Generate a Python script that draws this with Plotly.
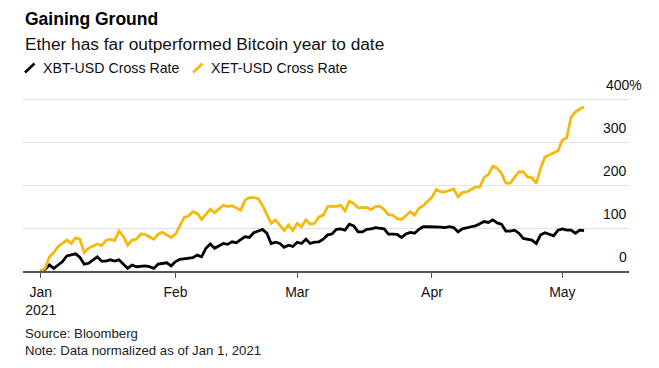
import datetime as dt
import plotly.graph_objects as go

# ---- data (days since Jan 1, 2021 -> normalized % change) ----
xbt_days = [0, 1, 2, 3, 4, 5, 6, 8, 9, 10, 11, 13, 14, 15, 16, 17, 18, 20, 21, 22, 24, 25, 26, 27, 29, 30,
            31, 32, 35, 36, 37, 38, 39, 40, 42, 43, 44, 45, 47, 48, 49, 50, 51, 52, 53, 54, 55, 56, 57, 58,
            59, 60, 61, 62, 63, 64, 65, 66, 67, 68, 69, 70, 71, 72, 73, 74, 75, 76, 77, 79, 80, 81, 82, 83,
            84, 85, 86, 87, 88, 89, 90, 92, 93, 94, 95, 96, 97, 98, 99, 100, 102, 103, 104, 105, 106, 107,
            108, 109, 110, 111, 112, 113, 114, 115, 116, 117, 118, 119, 120, 121, 122, 123, 124, 125]
xbt_vals = [0, 4, 14, 6, 14, 22, 35, 40, 32, 16, 18, 33, 23, 23, 26, 23, 26, 6, 14, 10, 12, 10, 6, 16, 19, 12,
            22, 27, 31, 37, 33, 53, 63, 53, 64, 62, 68, 66, 80, 78, 89, 93, 97, 88, 64, 67, 64, 55, 60, 57,
            67, 64, 74, 64, 67, 68, 74, 84, 86, 97, 98, 95, 109, 105, 91, 91, 97, 98, 101, 98, 86, 86, 85, 78,
            86, 90, 88, 97, 103, 103, 103, 102, 101, 103, 101, 91, 98, 101, 103, 105, 115, 113, 119, 112, 109, 93,
            93, 95, 88, 76, 74, 72, 64, 84, 89, 86, 82, 95, 98, 95, 95, 88, 95, 94]

xet_days = [0, 1, 2, 3, 4, 6, 7, 8, 9, 10, 11, 13, 14, 15, 16, 17, 18, 19, 20, 21, 22, 23, 24, 26, 27, 28,
            30, 31, 33, 34, 35, 36, 37, 39, 40, 42, 43, 44, 46, 47, 48, 49, 50, 51, 53, 54, 56, 57, 58, 59,
            60, 61, 62, 63, 64, 65, 66, 67, 68, 69, 70, 71, 72, 73, 75, 76, 77, 78, 79, 80, 81, 82, 83, 84,
            85, 86, 87, 88, 89, 90, 91, 92, 93, 95, 96, 97, 98, 100, 101, 102, 103, 104, 105, 106, 107, 108,
            109, 110, 111, 112, 113, 114, 115, 116, 117, 118, 119, 120, 121, 122, 123, 124, 125]
xet_vals = [0, 6, 33, 43, 57, 72, 64, 77, 74, 43, 53, 63, 59, 71, 74, 71, 93, 81, 60, 72, 74, 86, 85, 74, 86, 90,
            78, 86, 125, 128, 138, 134, 120, 144, 136, 153, 150, 152, 142, 165, 171, 171, 169, 153, 111, 119, 94, 107, 94, 111,
            103, 119, 109, 111, 126, 130, 150, 151, 150, 153, 140, 163, 157, 147, 148, 143, 150, 151, 143, 131, 130, 122, 120, 128,
            138, 130, 146, 152, 162, 172, 190, 184, 184, 191, 173, 183, 184, 195, 195, 218, 225, 244, 239, 227, 205, 204,
            218, 231, 231, 219, 217, 204, 239, 266, 270, 276, 280, 305, 310, 358, 370, 377, 382]

series_names = ["XBT-USD Cross Rate", "XET-USD Cross Rate"]
y_tick_vals = [0, 100, 200, 300, 400]
y_tick_text = ["0", "100", "200", "300", "400%"]
x_tick_vals = ["2021-01-01", "2021-02-01", "2021-03-01", "2021-04-01", "2021-05-01"]
x_tick_text = ["Jan<br>2021", "Feb", "Mar", "Apr", "May"]

start = dt.date(2021, 1, 1)
xbt_dates = [start + dt.timedelta(days=d) for d in xbt_days]
xet_dates = [start + dt.timedelta(days=d) for d in xet_days]

BLACK = "#000000"
YELLOW = "#F5B80C"
FONT = "Liberation Sans, Arial, sans-serif"

W, H = 659, 368
L, R, T, B = 23, 30, 97, 97
PW, PH = W - L - R, H - T - B


def px(x):
    return (x - L) / PW


def py(y):
    return (H - B - y) / PH


fig = go.Figure()
fig.add_trace(go.Scatter(x=xbt_dates, y=xbt_vals, mode="lines", name=series_names[0],
                         line=dict(color=BLACK, width=2.8), showlegend=False))
fig.add_trace(go.Scatter(x=xet_dates, y=xet_vals, mode="lines", name=series_names[1],
                         line=dict(color=YELLOW, width=2.8), showlegend=False))

fig.update_layout(
    width=W, height=H,
    margin=dict(l=L, r=R, t=T, b=B),
    paper_bgcolor="white", plot_bgcolor="white",
    font=dict(family=FONT, color="#000000", size=14),
    showlegend=False,
)

fig.update_xaxes(
    type="date",
    range=["2020-12-27 22:00", "2021-05-16 08:00"],
    tickvals=x_tick_vals, ticktext=x_tick_text,
    showgrid=False, zeroline=False,
    showline=True, linecolor="#555555", linewidth=1.5,
    ticks="outside", ticklen=5, tickcolor="#555555", tickwidth=1,
    tickfont=dict(size=14, color="#111111"),
    ticklabelstandoff=2,
)
fig.update_yaxes(
    range=[0, 405],
    tickvals=y_tick_vals, showticklabels=False,
    showgrid=True, gridcolor="#e2e2e2", gridwidth=1,
    zeroline=False, showline=False, ticks="",
)

# y tick labels above gridlines, right aligned
for v, t in zip(y_tick_vals, y_tick_text):
    fig.add_annotation(x=1, xref="paper", y=v, yref="y", text=t, showarrow=False,
                       xanchor="right", yanchor="bottom", yshift=4,
                       xshift=15 if t.endswith("%") else 0,
                       font=dict(size=14, color="#111111"))

# title / subtitle
fig.add_annotation(x=px(23), y=py(19), xref="paper", yref="paper", text="<b>Gaining Ground</b>",
                   showarrow=False, xanchor="left", yanchor="middle", font=dict(size=17.5, color="#000000"))
fig.add_annotation(x=px(23), y=py(44), xref="paper", yref="paper",
                   text="Ether has far outperformed Bitcoin year to date",
                   showarrow=False, xanchor="left", yanchor="middle", font=dict(size=17.3, color="#111111"))

# legend (slash icons + labels)
legend_items = [(25, 42, BLACK, series_names[0]), (193, 210, YELLOW, series_names[1])]
for ix, tx, col, name in legend_items:
    fig.add_shape(type="line", xref="paper", yref="paper",
                  x0=px(ix), y0=py(72.5), x1=px(ix + 9.5), y1=py(63.5),
                  line=dict(color=col, width=2.6))
    fig.add_annotation(x=px(tx - 1), y=py(68), xref="paper", yref="paper", text=name,
                       showarrow=False, xanchor="left", yanchor="middle",
                       font=dict(size=14.2, color="#111111"))

# footnotes
fig.add_annotation(x=px(23), y=py(333), xref="paper", yref="paper", text="Source: Bloomberg",
                   showarrow=False, xanchor="left", yanchor="middle", font=dict(size=13.2, color="#222222"))
fig.add_annotation(x=px(23), y=py(350), xref="paper", yref="paper",
                   text="Note: Data normalized as of Jan 1, 2021",
                   showarrow=False, xanchor="left", yanchor="middle", font=dict(size=13.2, color="#222222"))

fig.write_html("out.html", config={"displayModeBar": False},
               post_script="document.body.style.margin='0';document.body.style.overflow='hidden';")
